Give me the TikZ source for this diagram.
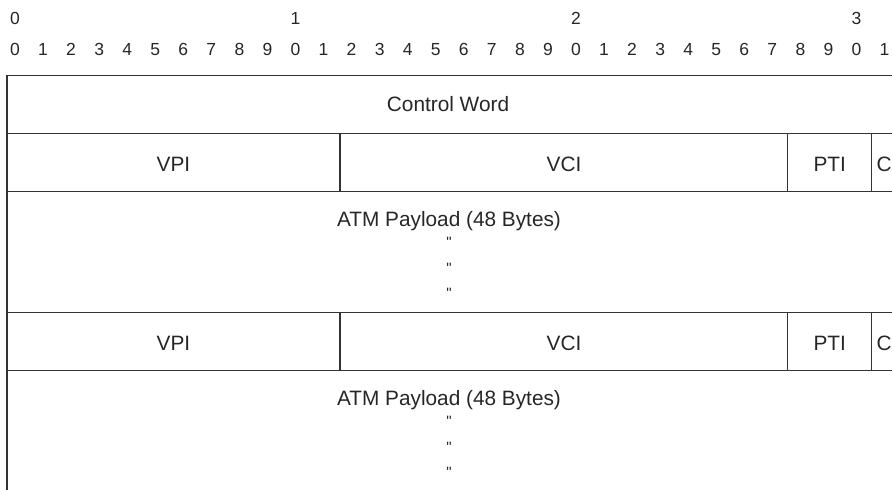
\documentclass[tikz,border=0pt]{standalone}
\usepackage{fontspec}
\setmainfont{Liberation Sans}
\newfontfamily\dittofont{Liberation Sans}
\begin{document}
\begin{tikzpicture}[x=1pt,y=-1pt,
  lbl/.style={font=\fontsize{20.8}{24}\selectfont, text=black!85, inner sep=0pt, anchor=base},
  bitnum/.style={font=\fontsize{17.5}{20}\selectfont, text=black!85, inner sep=0pt, anchor=base},
  ditto/.style={font=\dittofont\fontsize{15}{18}\selectfont, text=black!85, inner sep=0pt, anchor=north},
  rule/.style={line width=1.2pt, draw=black!80}]
\useasboundingbox (0,0) rectangle (892,490);
% bit numbers
\foreach \i in {0,...,31} {
  \pgfmathtruncatemacro\d{mod(\i,10)}
  \node[bitnum] (b\i) at ({15+\i*28.05},55) {\d};
}
\foreach \i/\t in {0/0,10/1,20/2,30/3} {
  \node[bitnum] (t\i) at ({15+\i*28.05},24.3) {\t};
}
% grid lines
\draw[rule] (7,490) -- (7,75.5) -- (892,75.5);
\draw[rule] (7,133.5) -- (892,133.5);
\draw[rule] (7,191.7) -- (892,191.7);
\draw[rule] (7,312.3) -- (892,312.3);
\draw[rule] (7,370.7) -- (892,370.7);
\foreach \x in {340,787.7,871.7} {
  \draw[rule] (\x,133.5) -- (\x,191.7);
  \draw[rule] (\x,312.3) -- (\x,370.7);
}
% labels
\node[lbl] (cw) at (448,111.5) {Control Word};
\node[lbl] (vpi1) at (173.5,171.7) {VPI};
\node[lbl] (vci1) at (564,171.7) {VCI};
\node[lbl] (pti1) at (829.7,171.7) {PTI};
\node[lbl,anchor=base west] (c1) at (876.5,171.7) {C};
\node[lbl] (pay1) at (449,226.9) {ATM Payload (48 Bytes)};
\node[ditto] (d1a) at (449,237.3) {"};
\node[ditto] (d1b) at (449,262.7) {"};
\node[ditto] (d1c) at (449,288) {"};
\node[lbl] (vpi2) at (173.5,350) {VPI};
\node[lbl] (vci2) at (564,350) {VCI};
\node[lbl] (pti2) at (829.7,350) {PTI};
\node[lbl,anchor=base west] (c2) at (876.5,350) {C};
\node[lbl] (pay2) at (449,405.7) {ATM Payload (48 Bytes)};
\node[ditto] (d2a) at (449,416) {"};
\node[ditto] (d2b) at (449,441.5) {"};
\node[ditto] (d2c) at (449,466.8) {"};
\end{tikzpicture}
\end{document}
